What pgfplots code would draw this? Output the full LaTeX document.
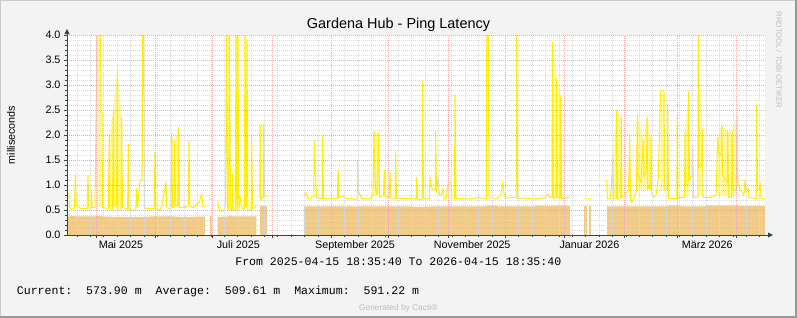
\documentclass[border=0pt]{standalone}
\usepackage{pgfplots}
\pgfplotsset{compat=1.18}
\usepackage{fontspec}
\setmainfont{Liberation Sans}
\setmonofont{Liberation Mono}
\usetikzlibrary{arrows.meta}
\definecolor{bgcol}{HTML}{F3F3F3}
\definecolor{areacol}{HTML}{F0CA88}
\definecolor{linecol}{HTML}{FFEE00}
\definecolor{shadecol}{HTML}{FFF7A8}
\definecolor{axiscol}{HTML}{2C4D43}
\definecolor{mgridcol}{HTML}{E8AAAA}
\definecolor{gridcol}{HTML}{DADADA}
\definecolor{faint}{HTML}{BDBDBD}
\begin{document}
\begin{tikzpicture}
\fill[bgcol] (0,0) rectangle (797bp,318bp);
\useasboundingbox (0,0) rectangle (797bp,318bp);
\draw[draw={rgb,255:red,203;green,203;blue,203}, line width=1bp] (0.5bp,0) -- (0.5bp,317.5bp) -- (797bp,317.5bp);
\draw[draw={rgb,255:red,153;green,153;blue,153}, line width=2bp] (0,1bp) -- (796bp,1bp) -- (796bp,318bp);
\begin{axis}[
  at={(67bp,83bp)}, anchor=south west, scale only axis,
  width=698bp, height=200bp,
  xmin=0, xmax=365, ymin=0, ymax=4,
  axis background/.style={fill=white},
  axis on top,
  axis x line*=bottom, axis y line*=left,
  axis line style={draw=axiscol, line width=0.8bp},
  x axis line style={-{Triangle[length=5bp,width=5bp]}, shorten >=-8bp},
  y axis line style={-{Triangle[length=5bp,width=5bp]}, shorten >=-6bp},
  xtick={15.225,46.225,76.225,107.225,138.225,168.225,199.225,229.225,260.225,291.225,319.225,350.225},
  xticklabels={},
  minor xtick={5.225,12.225,...,364},
  ytick={0,0.5,...,4},
  minor ytick={0,0.1,...,4},
  grid=both,
  major grid style={draw=mgridcol, line width=0.7bp, dash pattern=on 1bp off 1bp},
  minor grid style={draw=gridcol, line width=0.7bp, dash pattern=on 1bp off 1bp},
  tick align=outside, major tick length=3bp, minor tick length=2bp,
  tick style={draw=axiscol, line width=0.6bp},
  every tick label/.append style={font=\fontsize{10.8}{12}\selectfont, text=black},
  /pgf/number format/assume math mode=true,
  yticklabel style={/pgf/number format/.cd, fixed, fixed zerofill, precision=1},
  xticklabel style={yshift=-2.5bp},
  extra x ticks={28.2,89.6,150.6,211.9,273.2,334.8},
  extra x tick labels={Mai 2025,Juli 2025,September 2025,November 2025,Januar 2026,März 2026},
  extra x tick style={grid=none, major tick length=0pt},
  unbounded coords=jump,
]
% light yellow shading where the line oscillates quickly
\addplot[draw=none, fill=shadecol] coordinates {(15.69,0.55)(15.69,4.0)(17.52,4.0)(17.52,0.55)} -- cycle;
\addplot[draw=none, fill=shadecol] coordinates {(22.0,0.55)(22.12,2.0)(24.21,2.47)(26.30,3.3)(28.60,2.35)(28.8,0.55)} -- cycle;
\addplot[draw=none, fill=shadecol] coordinates {(54.6,0.55)(54.75,2.03)(56.32,1.87)(58.41,2.15)(58.6,0.55)} -- cycle;
\addplot[draw=none, fill=shadecol] coordinates {(83.51,0.55)(83.51,4.0)(84.97,4.0)(84.97,0.55)} -- cycle;
\addplot[draw=none, fill=shadecol] coordinates {(88.37,0.55)(88.37,4.0)(89.42,4.0)(89.42,0.55)} -- cycle;
\addplot[draw=none, fill=shadecol] coordinates {(93.08,0.55)(93.08,4.0)(94.13,3.9)(94.13,0.55)} -- cycle;
\addplot[draw=none, fill=shadecol] coordinates {(100.92,0.75)(100.92,2.2)(103.02,2.22)(103.02,0.75)} -- cycle;
\addplot[draw=none, fill=shadecol] coordinates {(160.4,0.8)(160.54,2.07)(163.00,2.03)(163.1,0.8)} -- cycle;
\addplot[draw=none, fill=shadecol] coordinates {(219.52,0.75)(219.52,4.0)(220.31,4.0)(220.31,0.75)} -- cycle;
\addplot[draw=none, fill=shadecol] coordinates {(253.7,0.75)(253.88,3.86)(256.07,3.14)(258.16,2.78)(258.3,0.75)} -- cycle;
\addplot[draw=none, fill=shadecol] coordinates {(285.2,0.75)(285.36,1.55)(287.45,2.5)(289.86,2.35)(290.0,0.75)} -- cycle;
\addplot[draw=none, fill=shadecol] coordinates {(298.1,0.9)(298.23,2.42)(301.36,1.9)(303.30,2.36)(305.39,1.95)(305.5,0.9)} -- cycle;
\addplot[draw=none, fill=shadecol] coordinates {(310.3,0.9)(310.36,2.85)(312.19,2.85)(312.3,0.9)} -- cycle;
\addplot[draw=none, fill=shadecol] coordinates {(323.1,0.8)(323.17,2.05)(325.10,2.87)(325.2,0.8)} -- cycle;
\addplot[draw=none, fill=shadecol] coordinates {(330.0,0.8)(330.12,4.0)(332.22,2.1)(332.3,0.8)} -- cycle;
\addplot[draw=none, fill=shadecol] coordinates {(340.2,0.8)(340.28,1.95)(342.37,2.2)(345.51,2.07)(347.76,2.07)(350.38,2.36)(350.5,0.8)} -- cycle;
% average area
\addplot[draw=none, fill=areacol] coordinates {(0,0.36)(2,0.38)(6,0.37)(14,0.37)(16,0.38)(20,0.37)(27,0.36)(40,0.36)(44,0.37)(56,0.37)(60,0.36)(72.16,0.37)} \closedcycle;
\addplot[draw=none, fill=areacol] coordinates {(74.67,0.37)(76.08,0.37)} \closedcycle;
\addplot[draw=none, fill=areacol] coordinates {(78.80,0.36)(84,0.37)(85.5,0.39)(87,0.37)(99.09,0.37)} \closedcycle;
\addplot[draw=none, fill=areacol] coordinates {(100.92,0.58)(104.43,0.58)} \closedcycle;
\addplot[draw=none, fill=areacol] coordinates {(123.93,0.57)(180,0.57)(182,0.56)(190,0.57)(219,0.57)(219.5,0.59)(225,0.59)(225.5,0.57)(244.7,0.57)(245,0.59)(251.5,0.59)(252,0.57)(253.6,0.59)(260.4,0.59)(263.03,0.58)} \closedcycle;
\addplot[draw=none, fill=areacol] coordinates {(270.51,0.58)(271.77,0.58)} \closedcycle;
\addplot[draw=none, fill=areacol] coordinates {(273.10,0.58)(273.86,0.58)} \closedcycle;
\addplot[draw=none, fill=areacol] coordinates {(282.38,0.57)(313.8,0.57)(314,0.59)(320.6,0.59)(321,0.57)(333.6,0.57)(334,0.59)(351.9,0.59)(352.2,0.58)(365,0.58)} \closedcycle;
% max line
\addplot[draw=linecol, line width=1bp, line join=round] coordinates {
(0,0.83)(1.0,0.83)(1.3,0.55)(2.09,0.52)(3.9,0.52)(4.4,1.22)(4.8,0.58)(6.28,0.55)(7.32,0.53)(10.5,0.53)(10.98,1.2)(11.4,0.52)(12.5,0.52)(12.81,0.88)(13.2,0.55)(14.64,0.55)(15.06,1.9)(15.69,4.0)(17.52,4.0)(17.78,2.45)(18.30,2.45)(18.56,0.55)(21.6,0.53)(22.12,2.0)(22.49,0.53)(23.8,0.5)(24.21,2.47)(24.58,0.6)(25.9,0.6)(26.30,3.3)(26.67,0.5)(28.24,0.5)(28.60,2.35)(29.02,0.55)(31.7,0.52)(32.06,1.82)(32.42,0.5)(36.0,0.5)(36.45,0.93)(36.87,0.55)(38.17,1.1)(39.32,1.1)(39.59,4.0)(40.11,4.0)(40.53,0.53)(45.6,0.53)(46.02,1.66)(46.5,0.5)(48.63,0.5)(49.68,0.6)(51.77,1.05)(52.2,0.55)(54.3,0.52)(54.75,2.03)(55.17,0.55)(55.9,0.55)(56.32,1.87)(56.74,0.6)(58.0,0.58)(58.41,2.15)(58.83,0.55)(61.71,0.55)(63.4,0.6)(63.80,1.87)(64.2,0.57)(65.89,0.55)(67.46,0.6)(69.03,0.65)(70.44,0.82)(71.12,0.57)(72.16,0.57)
(72.5,nan)
(74.41,0.72)(75.82,0.7)
(76.5,nan)
(78.80,0.67)(79.48,0.5)(81.05,0.47)(82.10,0.5)(82.88,0.6)(83.51,4.0)(83.93,0.5)(84.6,0.5)(84.97,4.0)(85.5,0.5)(86.2,0.5)(86.54,1.22)(86.9,0.5)(88.0,0.5)(88.37,4.0)(88.79,0.5)(89.1,0.5)(89.42,4.0)(89.84,0.5)(90.47,0.78)(90.99,0.6)(92.03,0.52)(92.7,0.52)(93.08,4.0)(93.60,0.55)(93.8,0.55)(94.13,3.9)(94.55,0.5)(96.32,0.5)(96.58,1.98)(97.00,0.53)(98.31,0.55)(99.09,0.6)
(100,nan)
(100.8,0.75)(100.92,2.2)(101.2,0.7)(101.97,0.75)(102.7,0.75)(103.02,2.22)(103.4,0.78)(104.43,0.77)
(110,nan)
(123.93,0.76)(124.98,0.85)(126.02,0.73)(127.07,0.72)(128.12,0.76)(129.06,0.76)(129.32,1.87)(129.95,1.2)(130.47,0.75)(132.30,0.73)(133.45,0.73)(133.71,1.97)(134.13,0.73)(137.53,0.72)(141.44,0.73)(141.81,1.3)(142.18,0.75)(144.27,0.78)(146.88,0.72)(148.45,0.74)(150.54,0.7)(151.75,0.72)(152.01,1.48)(152.43,0.9)(153.22,0.8)(154.26,0.73)(158.45,0.72)(160.02,0.8)(160.54,2.07)(161.33,0.9)(162.11,0.8)(163.00,2.03)(163.42,0.75)(165.51,0.8)(165.93,1.3)(166.29,0.78)(168.59,0.75)(168.90,1.25)(169.43,0.72)(171.63,0.72)(171.89,1.65)(172.31,0.73)(176.75,0.73)(181.98,0.72)(182.61,0.72)(182.87,1.15)(183.29,0.7)(185.75,0.72)(186.01,3.06)(186.43,0.72)(189.46,0.72)(189.82,1.15)(190.34,0.98)(191.39,0.9)(192.54,0.9)(192.80,2.08)(193.22,0.85)(194.00,1.15)(194.79,0.8)(195.57,0.78)(196.62,0.93)(197.14,0.72)(198.19,0.72)(199.39,1.05)(200.80,1.05)(201.17,0.72)(202.63,0.72)(202.89,2.8)(203.42,0.73)(210.74,0.72)(214.92,0.75)(219.26,0.73)(219.52,4.0)(220.31,4.0)(220.67,0.76)(222.24,0.73)(224.86,0.72)(226.95,0.82)(227.84,1.05)(228.52,0.82)(229.56,0.74)(233.75,0.75)(234.90,0.75)(235.16,4.0)(235.68,0.73)(239.50,0.74)(245.25,0.72)(249.96,0.75)(251.53,0.82)(252.57,0.75)(253.62,0.75)(253.88,3.86)(254.30,0.73)(255.81,0.75)(256.07,3.14)(256.49,0.75)(257.90,0.73)(258.16,2.78)(258.58,0.73)(259.89,0.73)(263.03,0.76)
(265,nan)
(270.51,0.73)(271.77,0.73)
(272.2,nan)
(272.60,0.72)(274.01,0.72)
(276,nan)
(282.22,1.1)(282.64,0.73)(283.95,0.72)(284.73,1.0)(285.36,1.55)(285.78,0.72)(287.19,0.72)(287.45,2.5)(287.87,0.72)(289.60,0.75)(289.86,2.35)(290.22,0.75)(291.27,0.8)(293.62,0.9)(294.25,2.0)(294.67,0.68)(295.45,0.65)(296.50,0.73)(297.81,0.9)(298.23,2.42)(298.59,1.2)(300.16,1.05)(301.36,1.9)(301.73,1.15)(303.04,1.3)(303.30,2.36)(303.66,0.9)(304.34,1.0)(305.13,0.9)(305.39,1.95)(305.76,0.85)(306.96,0.75)(308.01,0.8)(309.21,1.15)(309.57,1.7)(310.36,2.85)(310.88,2.9)(311.67,2.9)(312.19,2.85)(312.56,0.9)(313.75,0.9)(314.12,2.6)(314.54,0.73)(318.88,0.73)(319.14,2.4)(319.51,0.75)(322.91,0.75)(323.17,2.05)(323.69,1.0)(324.84,1.0)(325.10,2.87)(325.52,1.1)(326.83,1.2)(327.19,1.75)(327.61,0.75)(329.86,0.76)(330.12,4.0)(330.49,1.35)(331.01,1.4)(331.96,1.4)(332.22,2.1)(332.59,0.75)(336.25,0.75)(339.39,0.8)(340.28,1.95)(340.70,1.65)(342.11,1.6)(342.37,2.2)(342.79,1.2)(345.25,1.05)(345.51,2.07)(345.93,0.75)(347.50,0.75)(347.76,2.07)(348.29,0.9)(350.12,0.9)(350.38,2.36)(350.80,1.05)(351.95,0.9)(354.04,0.8)(354.56,1.1)(355.09,0.85)(356.13,0.95)(356.66,0.75)(360.42,0.73)(360.68,2.6)(361.10,0.9)(362.15,0.9)(362.41,1.05)(362.93,0.73)(365,0.72)
};
\end{axis}
\node[anchor=base, font=\fontsize{14.5}{16}\selectfont] at (398.5bp,289.7bp) {Gardena Hub - Ping Latency};
\node[rotate=90, font=\fontsize{10.8}{12}\selectfont] at (11bp,183bp) {milliseconds};
\node[rotate=-90, font=\fontsize{7.6}{8}\selectfont, text=faint] at (779bp,258bp) {RRDTOOL / TOBI OETIKER};
\node[anchor=base, inner sep=0pt, font=\ttfamily\fontsize{11.6}{13}\selectfont] at (398.3bp,52bp) {From 2025-04-15 18:35:40 To 2026-04-15 18:35:40};
\node[anchor=base west, inner sep=0pt, font=\ttfamily\fontsize{11.6}{13}\selectfont] at (16.7bp,24bp) {Current:\ \ 573.90\ m\ \ Average:\ \ 509.61\ m\ \ Maximum:\ \ 591.22\ m};
\node[anchor=base, inner sep=0pt, font=\fontsize{8.4}{9}\selectfont, text=faint] at (398.3bp,8bp) {Generated by Cacti®};
\end{tikzpicture}
\end{document}
